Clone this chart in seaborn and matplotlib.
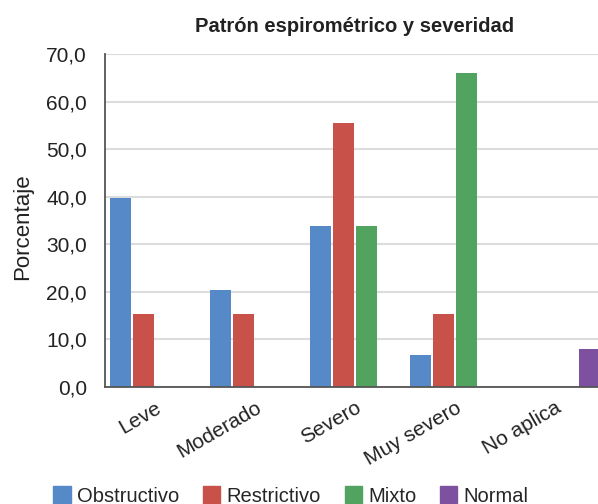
import pandas as pd
import matplotlib
matplotlib.use('Agg')
import matplotlib.pyplot as plt
import seaborn as sns

# Data
categories = ['Leve', 'Moderado', 'Severo', 'Muy severo', 'No aplica']
series = ['Obstructivo', 'Restrictivo', 'Mixto', 'Normal']
obstructivo = [39.7, 20.3, 33.8, 6.8, 0.0]
restrictivo = [15.4, 15.4, 55.6, 15.4, 0.0]
mixto = [0.0, 0.0, 33.8, 66.1, 0.0]
normal = [0.0, 0.0, 0.0, 0.0, 7.9]
colors = ['#5689C8', '#C8514A', '#52A35F', '#7D51A0']

# Build long-form table for seaborn
rows = []
for name, vals in zip(series, [obstructivo, restrictivo, mixto, normal]):
    for cat, v in zip(categories, vals):
        rows.append({'Severidad': cat, 'Patron': name, 'Porcentaje': v})
df = pd.DataFrame(rows)

sns.set_style('white')
plt.rcParams['font.family'] = ['Liberation Sans', 'DejaVu Sans']

fig = plt.figure(figsize=(5.98, 5.04), dpi=100)
ax = fig.add_axes([105 / 598, 117 / 504, 500 / 598, 333 / 504])

sns.barplot(data=df, x='Severidad', y='Porcentaje', hue='Patron',
            order=categories, hue_order=series, palette=colors,
            saturation=1, width=0.92, gap=0.13, linewidth=0, ax=ax)

ax.set_ylim(0, 70)
ax.set_xlim(-0.5, len(categories) - 0.5)
ax.set_yticks(range(0, 71, 10))
ax.set_yticklabels([f'{v:.1f}'.replace('.', ',') for v in range(0, 71, 10)], fontsize=15, color='#222222')
ax.yaxis.grid(True, color='#dcdcdc', linewidth=1.5)
ax.set_axisbelow(True)

# ticks at category boundaries, labels at centers
ax.set_xticks([i - 0.5 for i in range(len(categories) + 1)])
ax.set_xticklabels([])
ax.set_xticks(range(len(categories)), minor=True)
ax.set_xticklabels(categories, minor=True, rotation=30, ha='right',
                   rotation_mode='anchor', fontsize=15, color='#222222')
ax.tick_params(axis='x', which='minor', length=0, pad=8)
ax.tick_params(axis='x', which='major', length=7, width=1.2, color='#555555', direction='out')
ax.tick_params(axis='y', length=7, width=1.2, color='#555555', direction='out', pad=6)

for s in ['top', 'right']:
    ax.spines[s].set_visible(False)
for s in ['left', 'bottom']:
    ax.spines[s].set_color('#555555')
    ax.spines[s].set_linewidth(1.3)

ax.set_xlabel('')
ax.set_ylabel('Porcentaje', fontsize=16, color='#222222')
ax.yaxis.set_label_coords(-0.144, 0.48)
ax.set_title('Patrón espirométrico y severidad', fontsize=14.5, fontweight='bold',
             color='#222222', pad=16)

ax.legend_.remove()
handles = [plt.Rectangle((0, 0), 1, 1, color=c) for c in colors]
fig.legend(handles, series, loc='center', bbox_to_anchor=(291 / 598, 1 - 496 / 504),
           ncol=4, frameon=False, fontsize=14.5, handlelength=0.85, handleheight=0.85,
           handletextpad=0.3, columnspacing=1.2)

fig.savefig('out.png', dpi=100)
